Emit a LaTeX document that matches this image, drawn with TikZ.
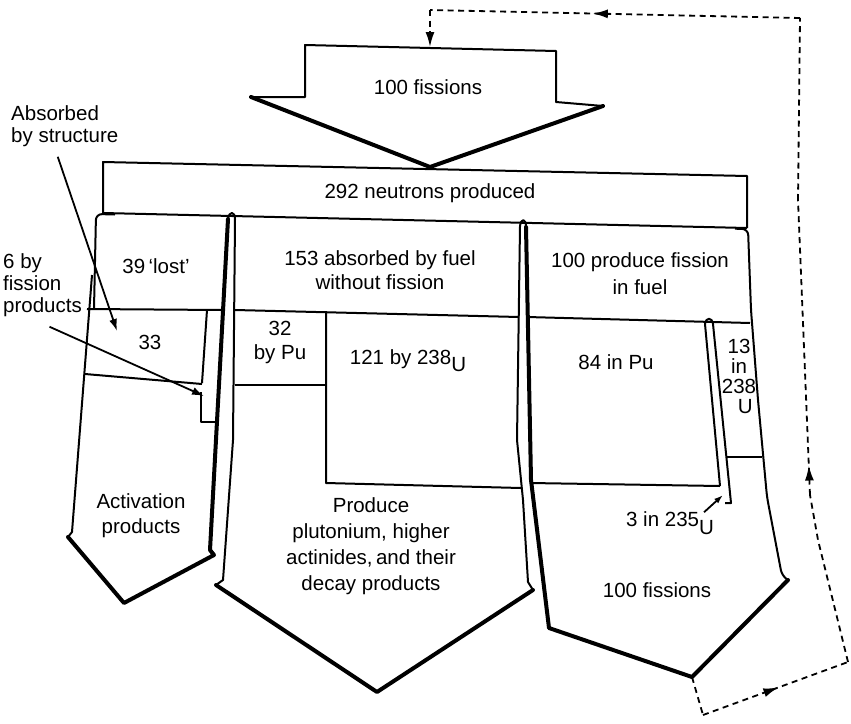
\documentclass[tikz,border=0pt]{standalone}
\usepackage{fontspec}
\setmainfont{Liberation Sans}
\usetikzlibrary{arrows.meta, calc, decorations.markings}

\begin{document}
\begin{tikzpicture}[
    x=1pt, y=-1pt,
    font=\fontsize{20.5}{24}\selectfont,
    lbl/.style={inner sep=0pt, align=center},
    fine/.style={line width=2pt, line join=round},
    heavy/.style={line width=4pt, line join=round, line cap=round},
    ptr/.style={line width=1.8pt, -{Latex[length=12pt,width=8pt]}},
    fb/.style={line width=1.8pt, dash pattern=on 6pt off 4.5pt},
    midarrow/.style={postaction={decorate, decoration={markings,
        mark=at position #1 with {\arrow{Latex[length=15pt,width=9pt]}}}}}
]
\useasboundingbox (0,0) rectangle (851,723);

% incoming fissions
\draw[fine] (251,97) -- (305,97) -- (305,45) -- (556,51) -- (556,102) -- (603,106);
\draw[heavy] (251,97) -- (430,167) -- (603,106);
\node[lbl] (fisIn) at (428,87) {100 fissions};

% neutron bar
\draw[fine] (103,213) -- (103,162) -- (747,176) -- (747,228);
\draw[fine] (103,213) -- (747,228);
\node[lbl] (neut) at (430,193) {292 neutrons produced};

% left column
\draw[fine, rounded corners=6pt] (94,309) -- (96,214) -- (115,214.5);
\draw[fine] (92,275) -- (72,532) -- (68,537);
\draw[heavy] (68,537) -- (124,603) -- (214,555) -- (210,550) -- (228,219);
\draw[fine] (228,219) .. controls (229,211) and (235,211) .. (235,219)
    -- (233,440) -- (223,580) -- (216,585);
\draw[fine] (87,309) -- (222,310);
\draw[fine] (207,310) -- (202,383);
\draw[fine] (85,374) -- (202,384);
\draw[fine] (201,392) -- (201,422) -- (218,422);

% middle column
\draw[heavy] (216,585) -- (377,692) -- (533,590);
\draw[fine] (533,590) -- (528,582) -- (523,500) -- (517,440) -- (520,226)
    .. controls (521,218) and (526,218) .. (526,227);
\draw[fine] (235,310) -- (519,317);
\draw[fine] (235,385) -- (326,385);
\draw[fine] (326,311) -- (326,483) -- (521,488);

% right column
\draw[heavy] (526,227) -- (531,480) -- (549,628) -- (692,677) -- (788,580);
\draw[fine, rounded corners=6pt] (788,580) -- (782,576) -- (767,497) -- (758,400)
    -- (751,310) -- (748,229) -- (735,228.7);
\draw[fine] (527,317) -- (750,323);
\draw[fine] (530,483) -- (720,486);
\draw[fine] (720,486) -- (705,324) .. controls (706,317) and (712,317) .. (713,324)
    -- (731,503) -- (725,503);
\draw[fine] (727,457) -- (762,457);

% labels
\node[lbl] (lost) at (156,266) {39\,`lost'};
\node[lbl] (absFuel) at (380,270) {153 absorbed by fuel\\without fission};
\node[lbl, font=\fontsize{20.5}{27}\selectfont] (prodFis) at (640,274) {100 produce fission\\in fuel};
\node[lbl] (n33) at (150,342) {33};
\node[lbl] (byPu) at (280,342) {32\\by Pu};
\node[lbl] (byU) at (408,361) {121 by 238\raisebox{-0.35em}{U}};
\node[lbl] (inPu) at (616,362) {84 in Pu};
\node[lbl, font=\fontsize{20.5}{20}\selectfont] (in238) at (739,376) {13\\in\\238\\\hspace*{0.6em}U};
\node[lbl, font=\fontsize{20.5}{25}\selectfont] (actP) at (141,516) {Activation\\products};
\node[lbl, font=\fontsize{20.5}{26}\selectfont] (pluP) at (371,546)
    {Produce\\plutonium, higher\\actinides,\,and their\\decay products};
\node[lbl] (in235) at (670,523) {3 in 235\raisebox{-0.4em}{U}};
\node[lbl] (fisOut) at (657,590) {100 fissions};
\node[lbl, align=left, anchor=west, font=\fontsize{20.5}{22}\selectfont] (absorbed) at (11,126) {Absorbed\\by structure};
\node[lbl, align=left, anchor=west, font=\fontsize{20.5}{22}\selectfont] (fisprod) at (3,285) {6 by\\fission\\products};

% pointers
\coordinate (absTip) at (117,331);
\coordinate (fpTip) at (204,396);
\coordinate (u235Tip) at (723,495);
\draw[ptr] ($(absorbed.south)+(-7,10)$) -- (absTip);
\draw[ptr] ($(fisprod.south)+(7,10)$) -- (fpTip);
\draw[line width=1.8pt, -{Latex[length=9pt,width=6pt]}] ($(in235.north east)+(-10,1)$) -- (u235Tip);

% feedback loop
\coordinate (fb0) at (692,677);
\coordinate (fb1) at (703,715);
\coordinate (fb2) at (848,662);
\coordinate (fb3) at (818,540);
\coordinate (fb4) at (810,495);
\coordinate (fb5) at (798,200);
\coordinate (fb6) at (800,18);
\coordinate (fb7) at (430,10);
\coordinate (fb8) at (430,47);
\draw[fb] (fb0) -- (fb1);
\draw[fb, midarrow=0.52] (fb1) -- (fb2);
\draw[fb] (fb2) -- (fb3) -- (fb4);
\draw[fb, midarrow=0.1] (fb4) -- (fb5);
\draw[fb] (fb5) -- (fb6);
\draw[fb, midarrow=0.56] (fb6) -- (fb7);
\draw[fb, -{Latex[length=15pt,width=9pt]}] (fb7) -- (fb8);
\end{tikzpicture}
\end{document}
